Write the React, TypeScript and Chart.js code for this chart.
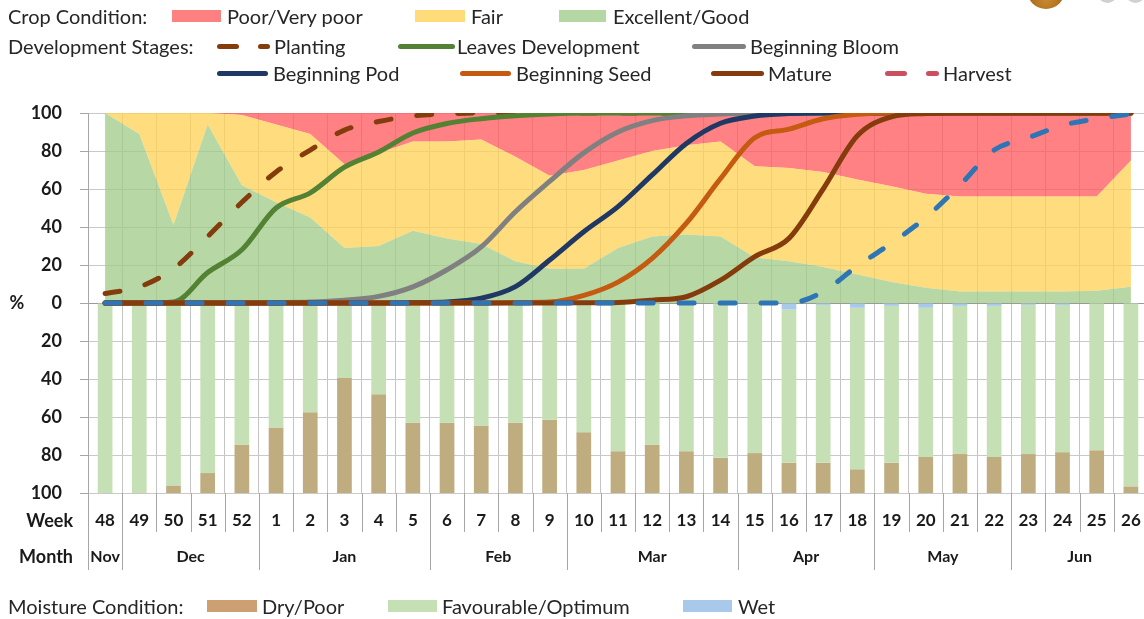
import React, { useEffect, useRef } from "react";
import { Chart, registerables } from "chart.js";

Chart.register(...registerables);

const FONT = "Lato, 'Open Sans', sans-serif";

// Categories
const weeks = ["48","49","50","51","52","1","2","3","4","5","6","7","8","9","10","11","12","13","14","15","16","17","18","19","20","21","22","23","24","25","26"];
const monthLabels = ["Nov","Dec","Jan","Feb","Mar","Apr","May","Jun"];
const weeksPerMonth = [1,4,5,4,5,4,4,4];

// Crop condition (%)
const excellentGood = [100,89,41,94,62,53,45,29,30,38,34,31,22,18,18,29,35,36,35,24,22,19,15,11,8,6,6,6,6,6.5,8.5];
const fair = [0,11,59,6,37,41,44,44,49,47,51,55,55,49,52,46,45,47,50,48,49,50,50,50.5,49.5,50,50,50,50,49.5,66.5];
const poorVeryPoor = [0,0,0,0,1,6,11,27,21,15,15,14,23,33,30,25,20,17,15,28,29,31,35,38.5,42.5,44,44,44,44,44,25];

// Development stages (cumulative %)
const planting = [5,8.5,18,35,53,69,80.5,91,95.5,98.5,99.5,100,100,100,100,100,100,100,100,100,100,100,100,100,100,100,100,100,100,100,100];
const leavesDevelopment = [0,0,0.5,16,28,50,58,71.5,79.5,89.5,94.5,97,98.5,99.5,100,100,100,100,100,100,100,100,100,100,100,100,100,100,100,100,100];
const beginningBloom = [0,0,0,0,0,0.2,0.5,1.5,3.5,8.5,17.5,29.5,48,64,79,90,96,98.5,99.5,100,100,100,100,100,100,100,100,100,100,100,100];
const beginningPod = [0,0,0,0,0,0,0,0,0,0.2,0.5,2.5,8.6,22.6,37.5,50.7,67.4,84,94.6,98.4,99.7,100,100,100,100,100,100,100,100,100,100];
const beginningSeed = [0,0,0,0,0,0,0,0,0,0,0,0,0.2,0.5,4,11,23.5,42,65.5,87,91.5,97,99.3,100,100,100,100,100,100,100,100];
const mature = [0,0,0,0,0,0,0,0,0,0,0,0,0,0,0.1,0.3,1.5,3.3,12,24.4,34,60,88,98,99.7,100,100,100,100,100,100];
const harvest = [0,0,0,0,0,0,0,0,0,0,0,0,0,0,0,0,0,0,0,0,0,6,19.5,31.5,45,62,80.5,87,93.5,97,99.5];

// Moisture condition (%)
const wet = [0,0,0,0,0,0,0,0,0,0,0,0,0,0,0,0,0,0,0,0,3.5,1,2.5,1.5,2.5,1.5,1.5,1,1,0,0];
const favourable = [100,100,96,89.5,74.5,65.5,57.5,39.5,48,63,63,64.5,63,61.5,68,78,74.5,78,81.5,79,80.5,83,85,82.5,78.5,78,79.5,78.5,77.5,77.5,96.5];
const dryPoor = [0,0,4,10.5,25.5,34.5,42.5,60.5,52,37,37,35.5,37,38.5,32,22,25.5,22,18.5,21,16,16,12.5,16,19,20.5,19,20.5,21.5,22.5,3.5];

const rowsPlugin = {
  id: "rows",
  afterDraw(chart: any) {
    const { ctx, chartArea, scales } = chart;
    const x = scales.x;
    const y = scales.y;
    const n = weeks.length;
    const half = (x.getPixelForValue(1) - x.getPixelForValue(0)) / 2;
    const bottom = chartArea.bottom;
    const weekEnd = bottom + 39;
    const monthEnd = bottom + 77;
    const starts = new Set<number>();
    let acc = 0;
    weeksPerMonth.forEach((c) => { starts.add(acc); acc += c; });
    ctx.save();
    ctx.strokeStyle = "#a6a6a6";
    ctx.lineWidth = 1;
    for (let i = 0; i <= n; i++) {
      const bx = Math.round(x.getPixelForValue(i) - half) + 0.5;
      ctx.beginPath();
      ctx.moveTo(bx, bottom);
      ctx.lineTo(bx, starts.has(i) ? monthEnd : weekEnd);
      ctx.stroke();
    }
    ctx.fillStyle = "#1a1a1a";
    ctx.textAlign = "center";
    ctx.textBaseline = "middle";
    ctx.font = `bold 17px ${FONT}`;
    weeks.forEach((w, i) => ctx.fillText(w, x.getPixelForValue(i), bottom + 28));
    ctx.font = `bold 16px ${FONT}`;
    acc = 0;
    weeksPerMonth.forEach((c, m) => {
      const cx = (x.getPixelForValue(acc) + x.getPixelForValue(acc + c - 1)) / 2;
      ctx.fillText(monthLabels[m], cx, bottom + 64);
      acc += c;
    });
    ctx.font = `bold 18px ${FONT}`;
    ctx.textAlign = "right";
    ctx.fillText("Week", 73, bottom + 28);
    ctx.fillText("Month", 73, bottom + 64);
    ctx.textAlign = "center";
    ctx.fillText("%", 17, y.getPixelForValue(0));
    ctx.restore();
  },
};

const lineDs = (label: string, data: number[], color: string, dashed = false) => ({
  type: "line" as const,
  label,
  data,
  borderColor: color,
  backgroundColor: color,
  borderWidth: 5,
  borderDash: dashed ? [15, 26] : [],
  borderCapStyle: "round" as const,
  borderJoinStyle: "round" as const,
  pointRadius: 0,
  cubicInterpolationMode: "monotone" as const,
  fill: false,
  stack: "s_" + label,
});

const areaDs = (label: string, data: number[], color: string, fill: any) => ({
  type: "line" as const,
  label,
  data,
  borderColor: "rgba(0,0,0,0)",
  borderWidth: 0,
  backgroundColor: color,
  pointRadius: 0,
  tension: 0,
  fill,
  stack: "cond",
});

const barDs = (label: string, data: number[], color: string) => ({
  type: "bar" as const,
  label,
  data: data.map((v) => -v),
  backgroundColor: color,
  borderWidth: 0,
  barPercentage: 0.43,
  categoryPercentage: 1,
  stack: "moist",
});

function LegendText({ text, left, cy }: { text: string; left: number; cy: number }) {
  return (
    <div style={{ position: "absolute", left, top: cy - 12, height: 24, lineHeight: "24px", font: `20px ${FONT}`, color: "#262626", whiteSpace: "nowrap" }}>{text}</div>
  );
}
function Box({ left, right, cy, color }: { left: number; right: number; cy: number; color: string }) {
  return <div style={{ position: "absolute", left, top: cy - 6, width: right - left, height: 12, background: color }} />;
}
function Seg({ left, right, cy, color }: { left: number; right: number; cy: number; color: string }) {
  return <div style={{ position: "absolute", left, top: cy - 2.5, width: right - left, height: 5, borderRadius: 3, background: color }} />;
}

export default function App() {
  const ref = useRef<HTMLCanvasElement | null>(null);
  useEffect(() => {
    if (!ref.current) return;
    const chart = new Chart(ref.current, {
      type: "bar",
      data: {
        labels: weeks,
        datasets: [
          lineDs("Harvest", harvest, "#2e75b6", true),
          lineDs("Mature", mature, "#843c0c"),
          lineDs("Beginning Seed", beginningSeed, "#c55a11"),
          lineDs("Beginning Pod", beginningPod, "#1f3864"),
          lineDs("Beginning Bloom", beginningBloom, "#808080"),
          lineDs("Leaves Development", leavesDevelopment, "#548235"),
          lineDs("Planting", planting, "#843c0c", true),
          areaDs("Excellent/Good", excellentGood, "rgba(160,204,137,0.76)", "origin"),
          areaDs("Fair", fair, "rgba(255,209,85,0.76)", "-1"),
          areaDs("Poor/Very poor", poorVeryPoor, "rgba(255,90,92,0.76)", "-1"),
          barDs("Wet", wet, "#a9c9ea"),
          barDs("Favourable/Optimum", favourable, "#c5e0b4"),
          barDs("Dry/Poor", dryPoor, "#bfad7f"),
        ] as any,
      },
      options: {
        animation: false,
        responsive: false,
        maintainAspectRatio: false,
        layout: { padding: { top: 113, right: 4, bottom: 0, left: 0 } },
        plugins: { legend: { display: false }, tooltip: { enabled: false }, title: { display: false } },
        scales: {
          x: {
            type: "category",
            offset: true,
            stacked: true,
            grid: { offset: true, color: "#c4c4c4", drawTicks: false },
            border: { display: false },
            ticks: { display: false },
            afterFit: (s: any) => { s.height = 126; },
          },
          y: {
            min: -100,
            max: 100,
            stacked: true,
            ticks: {
              stepSize: 20,
              callback: (v: any) => String(Math.abs(Number(v))),
              font: { family: FONT, weight: "bold", size: 18 },
              color: "#1a1a1a",
              padding: 18,
            },
            grid: {
              color: (c: any) => (c.tick && c.tick.value === 0 ? "#9a9a9a" : "#c9c9c9"),
              tickLength: 8,
              tickColor: "#a6a6a6",
            },
            border: { color: "#a6a6a6" },
            afterFit: (s: any) => { s.width = 88; },
          },
        },
      } as any,
      plugins: [rowsPlugin],
    });
    return () => chart.destroy();
  }, []);

  return (
    <div style={{ position: "absolute", left: 0, top: 0, width: 1144, height: 619, overflow: "hidden", background: "#fff" }}>
      <canvas ref={ref} width={1152} height={619} style={{ position: "absolute", left: 0, top: 0, width: 1152, height: 619 }} />
      {/* logo fragment */}
      <div style={{ position: "absolute", left: 1027, top: -29, width: 38, height: 38, borderRadius: "50%", background: "radial-gradient(circle at 50% 75%, #c98a2e, #8a4f12)" }} />
      <div style={{ position: "absolute", left: 1098, top: -16, width: 19, height: 19, borderRadius: "50%", background: "#d0d0d0" }} />
      <div style={{ position: "absolute", left: 1126, top: -16, width: 19, height: 19, borderRadius: "50%", background: "#d0d0d0" }} />

      {/* Row 1 */}
      <LegendText text="Crop Condition:" left={8} cy={16} />
      <Box left={172} right={221} cy={16} color="#ff8080" />
      <LegendText text="Poor/Very poor" left={227} cy={16} />
      <Box left={415} right={465} cy={16} color="#ffdb7a" />
      <LegendText text="Fair" left={471} cy={16} />
      <Box left={559} right={606} cy={16} color="#b5d7a3" />
      <LegendText text="Excellent/Good" left={613} cy={16} />

      {/* Row 2 */}
      <LegendText text="Development Stages:" left={8} cy={46} />
      <Seg left={217} right={239} cy={46} color="#843c0c" />
      <Seg left={258} right={270} cy={46} color="#843c0c" />
      <LegendText text="Planting" left={274} cy={46} />
      <Seg left={398} right={455} cy={46} color="#548235" />
      <LegendText text="Leaves Development" left={457} cy={46} />
      <Seg left={692} right={746} cy={46} color="#808080" />
      <LegendText text="Beginning Bloom" left={750} cy={46} />

      {/* Row 3 */}
      <Seg left={217} right={268} cy={73} color="#1f3864" />
      <LegendText text="Beginning Pod" left={273} cy={73} />
      <Seg left={460} right={511} cy={73} color="#c55a11" />
      <LegendText text="Beginning Seed" left={516} cy={73} />
      <Seg left={711} right={764} cy={73} color="#843c0c" />
      <LegendText text="Mature" left={768} cy={73} />
      <Seg left={885} right={907} cy={73} color="#c9505e" />
      <Seg left={926} right={939} cy={73} color="#c9505e" />
      <LegendText text="Harvest" left={943} cy={73} />

      {/* Bottom legend */}
      <LegendText text="Moisture Condition:" left={8} cy={606} />
      <Box left={207} right={257} cy={606} color="#cda073" />
      <LegendText text="Dry/Poor" left={262} cy={606} />
      <Box left={388} right={437} cy={606} color="#c5e0b4" />
      <LegendText text="Favourable/Optimum" left={442} cy={606} />
      <Box left={683} right={732} cy={606} color="#a9c9ea" />
      <LegendText text="Wet" left={738} cy={606} />
    </div>
  );
}
